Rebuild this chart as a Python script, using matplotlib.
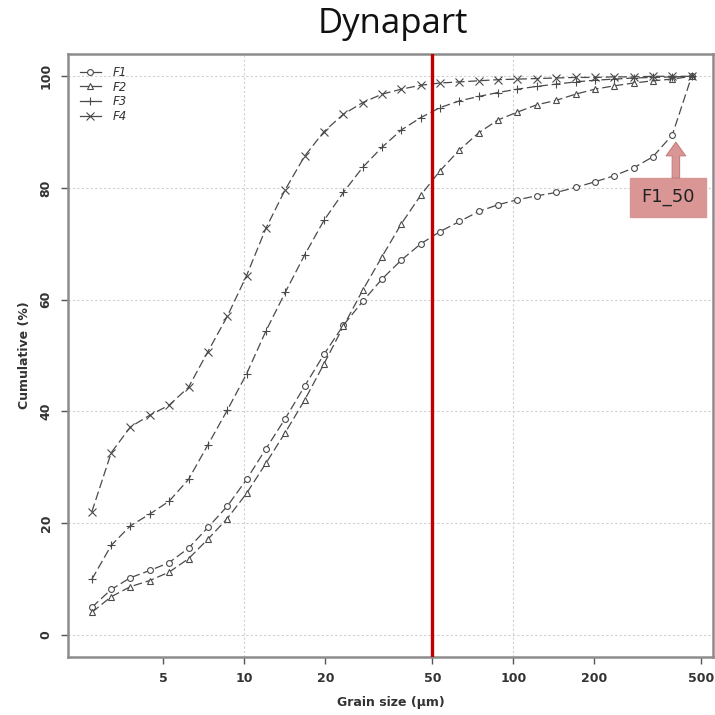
import matplotlib
matplotlib.use("Agg")
import matplotlib.pyplot as plt

# grain size classes (um)
grain = [2.71, 3.20, 3.77, 4.45, 5.25, 6.20, 7.32, 8.64, 10.19, 12.03,
         14.19, 16.75, 19.77, 23.33, 27.54, 32.49, 38.35, 45.26, 53.41, 63.04,
         74.38, 87.78, 103.6, 122.3, 144.3, 170.3, 201.0, 237.2, 279.9, 330.4,
         389.9, 460.1]

f1 = [4.9, 8.1, 10.2, 11.5, 12.9, 15.5, 19.2, 23.0, 27.8, 33.3,
      38.7, 44.5, 50.2, 55.4, 59.7, 63.7, 67.1, 70.0, 72.2, 74.0,
      75.8, 77.0, 77.9, 78.6, 79.2, 80.1, 81.1, 82.2, 83.6, 85.6,
      89.5, 100.0]
f2 = [4.0, 6.8, 8.6, 9.7, 11.2, 13.6, 17.1, 20.8, 25.3, 30.7,
      36.2, 42.0, 48.5, 55.2, 61.7, 67.7, 73.6, 78.7, 83.1, 86.8,
      89.9, 92.2, 93.6, 94.9, 95.7, 96.8, 97.7, 98.3, 98.8, 99.2,
      99.5, 100.0]
f3 = [9.9, 16.0, 19.5, 21.6, 23.9, 27.8, 34.0, 40.2, 46.7, 54.4,
      61.3, 68.0, 74.2, 79.2, 83.7, 87.3, 90.4, 92.6, 94.4, 95.6,
      96.4, 97.1, 97.7, 98.2, 98.6, 99.0, 99.3, 99.5, 99.7, 99.8,
      99.9, 100.0]
f4 = [22.0, 32.6, 37.2, 39.3, 41.1, 44.3, 50.7, 57.0, 64.3, 72.8,
      79.7, 85.7, 90.1, 93.2, 95.3, 96.8, 97.7, 98.4, 98.8, 99.0,
      99.2, 99.4, 99.5, 99.6, 99.7, 99.8, 99.8, 99.9, 99.9, 100.0,
      100.0, 100.0]

series = [("F1", f1, "o"), ("F2", f2, "^"), ("F3", f3, "+"), ("F4", f4, "x")]

xticks = [5, 10, 20, 50, 100, 200, 500]
yticks = [0, 20, 40, 60, 80, 100]
cut = 50

fig = plt.figure(figsize=(7.15, 7.15), dpi=100)
ax = fig.add_axes([0.0951, 0.0811, 0.902, 0.8434])

col = "#4a4a4a"
sizes = {"o": 4.2, "^": 5.0, "+": 6.0, "x": 5.5}
for name, vals, mk in series:
    ax.plot(grain, vals, color=col, lw=0.9, ls=(0, (7, 3)), marker=mk,
            ms=sizes[mk], mfc="white", mec=col, mew=0.8,
            label=name, zorder=3)

ax.axvline(cut, color="#c00000", lw=2.4, zorder=4)

ax.set_xscale("log")
ax.set_xlim(2.21, 552)
ax.set_ylim(-4, 104)
ax.set_xticks(xticks)
ax.set_xticklabels([str(t) for t in xticks])
ax.minorticks_off()
ax.set_yticks(yticks)
ax.set_yticklabels([str(t) for t in yticks], rotation=90, va="center")
ax.tick_params(length=5, width=1, color="#555555", labelsize=9,
               labelcolor="#333333", pad=6)
for lab in ax.get_xticklabels() + ax.get_yticklabels():
    lab.set_fontweight("bold")

for y in yticks:
    ax.axhline(y, color="#d0d0d0", lw=0.8, ls=(0, (2, 2)), zorder=1)
for x in [10, 100]:
    ax.axvline(x, color="#d0d0d0", lw=0.8, ls=(0, (2, 2)), zorder=1)

for s in ax.spines.values():
    s.set_color("#8c8c8c")
    s.set_linewidth(1.8)

ax.set_xlabel("Grain size (µm)", fontsize=9, fontweight="bold", color="#333333", labelpad=8)
ax.set_ylabel("Cumulative (%)", fontsize=9, fontweight="bold", color="#333333", labelpad=6)
fig.text(0.55, 0.967, "Dynapart", ha="center", va="center", fontsize=25,
         family="Open Sans", color="#111111")

leg = ax.legend(loc="upper left", bbox_to_anchor=(0.0, 1.0), frameon=False,
                handlelength=1.8, handletextpad=1.0, labelspacing=0.15,
                prop={"size": 8.5, "style": "italic"}, borderaxespad=0.6)
for h in leg.get_lines():
    h.set_linestyle("-")
for t in leg.get_texts():
    t.set_color("#333333")

# F1_50 callout
ax.text(376, 78.3, "F1_50", ha="center", va="center", fontsize=13, color="#222222",
        bbox=dict(boxstyle="square,pad=0.6", fc="#d99694", ec="#d99694"), zorder=5)
ax.annotate("", xy=(402, 88.2), xytext=(402, 81.8),
            arrowprops=dict(arrowstyle="simple,head_length=0.7,head_width=1.0,tail_width=0.38",
                            mutation_scale=14, fc="#d99694", ec="#c47e7c", lw=0.8,
                            shrinkA=0, shrinkB=0),
            zorder=5)

fig.savefig("out.png", dpi=100)
